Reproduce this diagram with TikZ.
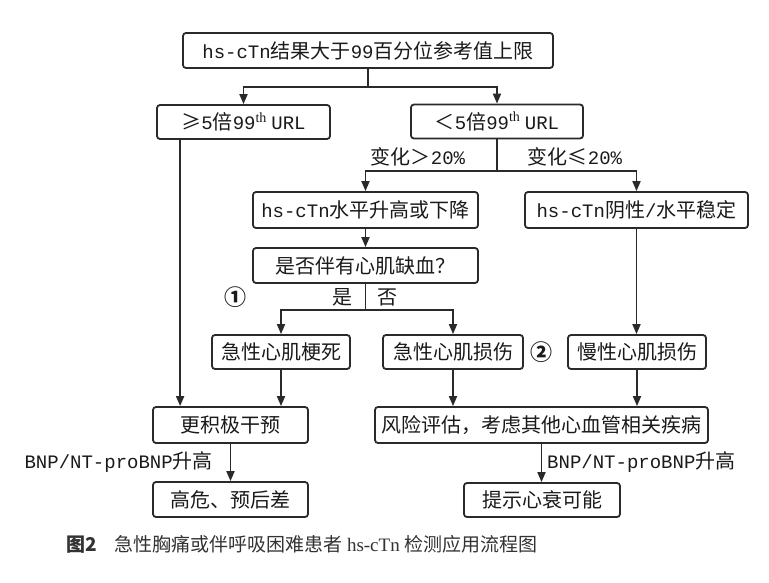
\documentclass[tikz,border=0pt]{standalone}
\usepackage{fontspec}
\setmainfont{Liberation Serif}
\newfontfamily\cjk{Noto Sans CJK SC}
\newfontfamily\monof[Scale=0.95]{Liberation Mono}
\newfontfamily\serf{Liberation Serif}
\usetikzlibrary{arrows.meta}
\definecolor{lc}{HTML}{2A2A2A}
\definecolor{tc}{HTML}{1A1A1A}
\definecolor{capc}{HTML}{333333}
\newcommand\mn[1]{{\monof #1}}
\begin{document}
\begin{tikzpicture}[x=1pt,y=-1pt,
  box/.style={draw=lc, line width=1.8pt, rounded corners=3pt, minimum height=35pt, inner sep=0pt,
    font={\cjk\fontsize{20}{24}\selectfont}, text=tc},
  lab/.style={inner sep=0pt, font={\cjk\fontsize{20}{24}\selectfont}, text=tc},
  circ/.style={inner sep=0pt, font={\cjk\bfseries\fontsize{22}{24}\selectfont}, text=tc},
  ln/.style={draw=lc, line width=1.8pt},
  arr/.style={ln, -{Triangle[length=10pt,width=8pt]}}]
\useasboundingbox[fill=white] (0,0) rectangle (769,583);

\node[box, minimum width=370pt] (top) at (368,50.5) {\mn{hs-cTn}结果大于\mn{99}百分位参考值上限};
\node[box, minimum width=173pt, minimum height=34pt] (ge5) at (243.5,122) {≥\mn{5}倍\mn{99}\textsuperscript{\serf th}\ \mn{URL}};
\node[box, minimum width=172pt, minimum height=34pt] (lt5) at (497,121.5) {＜\mn{5}倍\mn{99}\textsuperscript{\serf th}\ \mn{URL}};
\node[box, minimum width=225pt, minimum height=36pt] (sp) at (365.5,210) {\mn{hs-cTn}水平升高或下降};
\node[box, minimum width=223pt, minimum height=36pt] (neg) at (636.5,210) {\mn{hs-cTn}阴性\mn{/}水平稳定};
\node[box, minimum width=225pt] (isc) at (365.5,265.5) {是否伴有心肌缺血？};
\node[box, minimum width=138pt, minimum height=34pt] (ami) at (281,352) {急性心肌梗死};
\node[box, minimum width=140pt, minimum height=34pt] (aci) at (453,352) {急性心肌损伤};
\node[box, minimum width=138pt, minimum height=34pt] (chr) at (637,352) {慢性心肌损伤};
\node[box, minimum width=155pt, minimum height=36pt] (agg) at (230.5,425) {更积极干预};
\node[box, minimum width=333pt, minimum height=36pt] (risk) at (541.5,425) {风险评估，考虑其他心血管相关疾病};
\node[box, minimum width=155pt] (high) at (230.5,499.5) {高危、预后差};
\node[box, minimum width=156pt, minimum height=34pt] (hf) at (542,500) {提示心衰可能};

\node[lab] (l1) at (418,157) {变化＞\mn{20\%}};
\node[lab] (l2) at (575,157) {变化≤\mn{20\%}};
\node[circ] (c1) at (235,297) {①};
\node[lab] (yes) at (342,297) {是};
\node[lab] (no) at (387,297) {否};
\node[circ] (c2) at (541,352) {②};
\node[lab, anchor=east] (b1) at (213,462) {\mn{BNP/NT-proBNP}升高};
\node[lab, anchor=west] (b2) at (547,462) {\mn{BNP/NT-proBNP}升高};

\draw[ln] (top.south) -- ++(0,18) coordinate (j1);
\draw[arr] (j1) -| (ge5.north);
\draw[arr] (j1) -| (lt5.north);
\draw[ln] (lt5.south) -- ++(0,32) coordinate (j2);
\draw[arr] (j2) -| (sp.north);
\draw[arr] (j2) -| (neg.north);
\draw[arr] (sp.south) -- (isc.north);
\draw[ln] (isc.south) -- ++(0,26) coordinate (j3);
\draw[arr] (j3) -| (ami.north);
\draw[arr] (j3) -| (aci.north);
\draw[arr] ([xshift=24pt]ge5.south west) -- ([xshift=24pt]ge5.south west |- agg.north);
\draw[arr] (ami.south) -- (ami.south |- agg.north);
\draw[arr] (aci.south) -- (aci.south |- risk.north);
\draw[arr] (neg.south) -- (neg.south |- chr.north);
\draw[arr] (chr.south) -- (chr.south |- risk.north);
\draw[arr] (agg.south) -- (high.north);
\draw[arr] (risk.south) -- (risk.south |- hf.north);

\node[anchor=west, inner sep=0pt, font={\cjk\fontsize{19}{22}\selectfont}, text=capc] (cap) at (66,544)
  {{\bfseries 图2}\hspace{18pt}急性胸痛或伴呼吸困难患者 {\serf hs-cTn} 检测应用流程图};
\end{tikzpicture}
\end{document}
